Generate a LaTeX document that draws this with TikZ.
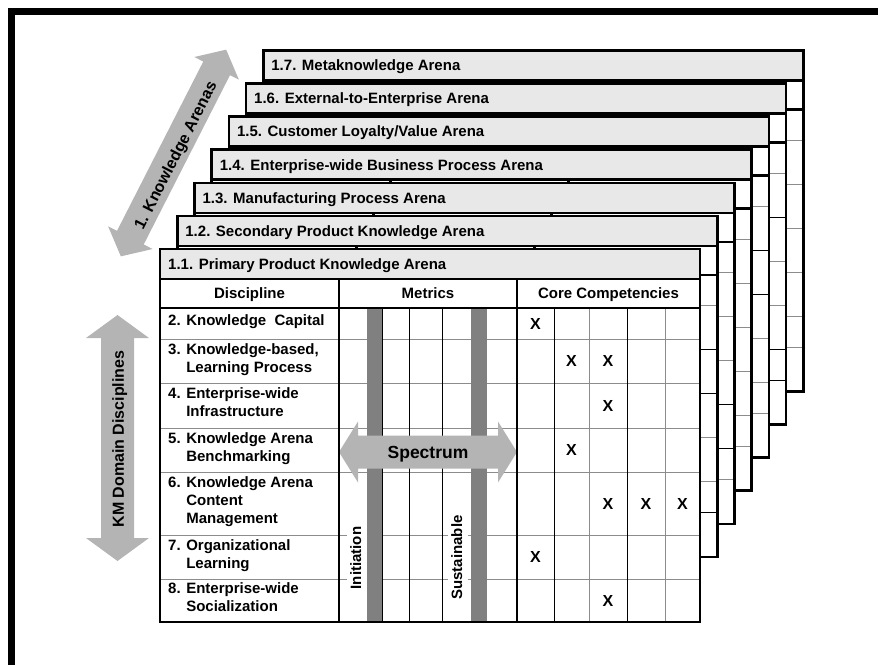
\documentclass[tikz,border=0pt]{standalone}
\usepackage{fontspec}
\setmainfont{Liberation Sans}
\usetikzlibrary{calc}

\definecolor{hdrfill}{HTML}{E8E8E8}
\definecolor{arrowgrey}{HTML}{B4B4B4}
\definecolor{bargrey}{HTML}{808080}
\definecolor{rulegrey}{HTML}{8C8C8C}

\tikzset{
  framerule/.style={line width=7pt},
  panelrule/.style={line width=2.6pt, draw=black},
  rowrule/.style={line width=0.9pt, draw=rulegrey},
  colrule/.style={line width=0.9pt},
  hdrbox/.style={fill=hdrfill, draw=black, line width=2.6pt},
  titletext/.style={anchor=west, inner sep=0pt, font=\bfseries\fontsize{15}{18}\selectfont,
    text height=10.7pt, text depth=0pt},
  colhead/.style={anchor=center, inner sep=0pt, font=\bfseries\fontsize{15}{18}\selectfont,
    text height=10.7pt, text depth=0pt},
  disctext/.style={anchor=west, inner sep=0pt, font=\bfseries\fontsize{15}{18}\selectfont},
  xmark/.style={anchor=center, inner sep=0pt, font=\bfseries\fontsize{16}{18}\selectfont,
    text height=11.5pt, text depth=0pt},
  stagetext/.style={rotate=90, fill=white, inner xsep=4pt, inner ysep=3pt,
    font=\bfseries\fontsize{15}{18}\selectfont, text height=11pt, text depth=3pt},
  arrowtext/.style={inner sep=0pt, font=\bfseries\fontsize{16}{18}\selectfont,
    text height=11.5pt, text depth=0pt},
  spectext/.style={inner sep=0pt, font=\bfseries\fontsize{17.5}{20}\selectfont,
    text height=12.5pt, text depth=0pt},
}

% A grey double-headed block arrow:
% centre x, centre y, angle, half length, shaft half width, head half width, head length
\newcommand{\blockarrow}[7]{%
  \fill[arrowgrey, shift={(#1,#2)}, rotate=#3]
    (-#4,0) -- ({-#4+#7},-#6) -- ({-#4+#7},-#5) -- ({#4-#7},-#5) -- ({#4-#7},-#6)
    -- (#4,0) -- ({#4-#7},#6) -- ({#4-#7},#5) -- ({-#4+#7},#5) -- ({-#4+#7},#6) -- cycle;}

% One arena sheet lying behind the front one: only its title bar and right edge show.
% #1 node name, #2 left, #3 top, #4 title, #5 row rules as y/colour pairs
\newcommand{\backarena}[5]{%
  \begin{scope}[shift={(#2,#3)}]
    \fill[white] (0,0) rectangle (540,341);
    \foreach \ry/\rc in {#5}
      \draw[rowrule, draw=\rc] (0,\ry) -- (540,\ry);
    \draw[panelrule] (179,30) -- (179,341) (357,30) -- (357,341) (0,59) -- (540,59);
    \draw[panelrule] (0,0) rectangle (540,341);
    \draw[hdrbox] (0,0) rectangle (540,30);
    \node[titletext] (#1) at (8,15) {#4};
  \end{scope}}

\begin{document}
\begin{tikzpicture}[x=1pt,y=-1pt]
\useasboundingbox (0,0) rectangle (878,664);
\clip (0,0) rectangle (878,664);

% outer frame
\draw[framerule] (11.5,700) -- (11.5,11.5) -- (900,11.5);

% stacked arena sheets, back to front
\backarena{arena7}{263.2}{50.4}{1.7. Metaknowledge Arena}
  {90/rulegrey,134/rulegrey,178/rulegrey,222/rulegrey,266/rulegrey,297/rulegrey}
\backarena{arena6}{246.0}{83.5}{1.6. External-to-Enterprise Arena}
  {90/rulegrey,134/black,178/rulegrey,222/rulegrey,266/black,297/black}
\backarena{arena5}{228.8}{116.6}{1.5. Customer Loyalty/Value Arena}
  {90/rulegrey,134/black,178/black,222/rulegrey,266/rulegrey,297/rulegrey}
\backarena{arena4}{211.6}{149.7}{1.4. Enterprise-wide Business Process Arena}
  {90/rulegrey,134/rulegrey,178/rulegrey,222/rulegrey,266/rulegrey,297/rulegrey}
\backarena{arena3}{194.4}{182.8}{1.3. Manufacturing Process Arena}
  {90/rulegrey,134/rulegrey,178/rulegrey,222/black,266/black,297/rulegrey}
\backarena{arena2}{177.2}{215.9}{1.2. Secondary Product Knowledge Arena}
  {90/rulegrey,134/black,178/black,222/rulegrey,266/rulegrey,297/black}

% front sheet with the full matrix
\begin{scope}[shift={(160,249)}]
  \fill[white] (0,0) rectangle (540,373);
  \foreach \ry in {90,134,179,223,286,330}
    \draw[rowrule] (0,\ry) -- (540,\ry);
  \foreach \cx in {222,249,282}
    \draw[colrule, draw=black] (\cx,59) -- (\cx,373);
  \foreach \cx/\cc in {394/black,429/rulegrey,467/black,505/rulegrey}
    \draw[colrule, draw=\cc] (\cx,59) -- (\cx,373);

  % stage bars in the metrics column
  \fill[bargrey] (207,59) rectangle (222,373);
  \fill[bargrey] (311,58) rectangle (327,373);

  % spectrum arrow across the metrics column
  \blockarrow{268}{203}{0}{89}{16.5}{30.5}{19}
  \node[spectext] (spectrum) at (268,203) {Spectrum};

  \node[stagetext] (initiation) at (197,309) {Initiation};
  \node[stagetext] (sustainable) at (298,308.5) {Sustainable};

  % discipline rows
  \node[disctext] (d2) at (8,73) {\begin{tabular}{@{}l@{ }l@{}}2.&Knowledge\ \ Capital\end{tabular}};
  \node[disctext] (d3) at (8,110.5) {\begin{tabular}{@{}l@{ }l@{}}3.&Knowledge-based,\\&Learning Process\end{tabular}};
  \node[disctext] (d4) at (8,155) {\begin{tabular}{@{}l@{ }l@{}}4.&Enterprise-wide\\&Infrastructure\end{tabular}};
  \node[disctext] (d5) at (8,199.5) {\begin{tabular}{@{}l@{ }l@{}}5.&Knowledge Arena\\&Benchmarking\end{tabular}};
  \node[disctext] (d6) at (8,253) {\begin{tabular}{@{}l@{ }l@{}}6.&Knowledge Arena\\&Content\\&Management\end{tabular}};
  \node[disctext] (d7) at (8,306.5) {\begin{tabular}{@{}l@{ }l@{}}7.&Organizational\\&Learning\end{tabular}};
  \node[disctext] (d8) at (8,350) {\begin{tabular}{@{}l@{ }l@{}}8.&Enterprise-wide\\&Socialization\end{tabular}};

  % core competency marks
  \node[xmark] (x21) at (375.5,74.5) {X};
  \node[xmark] (x32) at (411.5,112) {X};
  \node[xmark] (x33) at (448,112) {X};
  \node[xmark] (x43) at (448,156.5) {X};
  \node[xmark] (x52) at (411.5,201) {X};
  \node[xmark] (x63) at (448,254.5) {X};
  \node[xmark] (x64) at (486,254.5) {X};
  \node[xmark] (x65) at (522.5,254.5) {X};
  \node[xmark] (x71) at (375.5,308) {X};
  \node[xmark] (x83) at (448,351.5) {X};

  % heavy rules
  \draw[panelrule] (0,59) -- (540,59) (179,30) -- (179,373) (357,30) -- (357,373);
  \draw[panelrule] (0,0) rectangle (540,373);
  \draw[hdrbox] (0,0) rectangle (540,30);
  \node[titletext] (arena1) at (8,15) {1.1. Primary Product Knowledge Arena};

  \node[colhead] (hdisc) at (89.5,44.5) {Discipline};
  \node[colhead] (hmetr) at (268,44.5) {Metrics};
  \node[colhead] (hcore) at (448.5,44.5) {Core Competencies};
\end{scope}

% axis arrows
\blockarrow{117.5}{438}{90}{123}{16.5}{31.5}{23}
\node[arrowtext, rotate=90] (kmaxis) at (118,439) {KM Domain Disciplines};
\blockarrow{173.5}{153}{63}{116}{15}{25}{21}
\node[arrowtext, rotate=63] (arenaaxis) at (175,155) {1. Knowledge Arenas};

\end{tikzpicture}
\end{document}
